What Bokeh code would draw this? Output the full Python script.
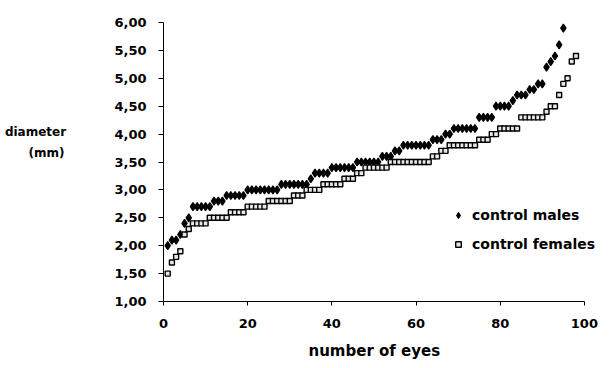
from bokeh.plotting import figure
from bokeh.models import Range1d, FixedTicker, CustomJSTickFormatter, Legend, LegendItem, Title
from bokeh.core.properties import value
from bokeh.layouts import row
from bokeh.embed import file_html
from bokeh.resources import INLINE

# ---- data ----
males = [2.0, 2.1, 2.1, 2.2, 2.4, 2.5,
         2.7, 2.7, 2.7, 2.7, 2.7,
         2.8, 2.8, 2.8,
         2.9, 2.9, 2.9, 2.9, 2.9,
         3.0, 3.0, 3.0, 3.0, 3.0, 3.0, 3.0, 3.0,
         3.1, 3.1, 3.1, 3.1, 3.1, 3.1, 3.1,
         3.2,
         3.3, 3.3, 3.3, 3.3,
         3.4, 3.4, 3.4, 3.4, 3.4, 3.4,
         3.5, 3.5, 3.5, 3.5, 3.5, 3.5,
         3.6, 3.6, 3.6,
         3.7, 3.7,
         3.8, 3.8, 3.8, 3.8, 3.8, 3.8, 3.8,
         3.9, 3.9, 3.9,
         4.0, 4.0,
         4.1, 4.1, 4.1, 4.1, 4.1, 4.1,
         4.3, 4.3, 4.3, 4.3,
         4.5, 4.5, 4.5, 4.5,
         4.6,
         4.7, 4.7, 4.7,
         4.8, 4.8,
         4.9, 4.9,
         5.2, 5.3, 5.4, 5.6, 5.9]

females = [1.5, 1.7, 1.8, 1.9, 2.2, 2.3,
           2.4, 2.4, 2.4, 2.4,
           2.5, 2.5, 2.5, 2.5, 2.5,
           2.6, 2.6, 2.6, 2.6,
           2.7, 2.7, 2.7, 2.7, 2.7,
           2.8, 2.8, 2.8, 2.8, 2.8, 2.8,
           2.9, 2.9, 2.9,
           3.0, 3.0, 3.0, 3.0,
           3.1, 3.1, 3.1, 3.1, 3.1,
           3.2, 3.2, 3.2,
           3.3, 3.3,
           3.4, 3.4, 3.4, 3.4, 3.4, 3.4,
           3.5, 3.5, 3.5, 3.5, 3.5, 3.5, 3.5, 3.5, 3.5, 3.5,
           3.6, 3.6,
           3.7, 3.7,
           3.8, 3.8, 3.8, 3.8, 3.8, 3.8, 3.8,
           3.9, 3.9, 3.9,
           4.0, 4.0,
           4.1, 4.1, 4.1, 4.1, 4.1,
           4.3, 4.3, 4.3, 4.3, 4.3, 4.3,
           4.4,
           4.5, 4.5,
           4.7, 4.9, 5.0, 5.3, 5.4]

male_eyes = list(range(1, len(males) + 1))
female_eyes = list(range(1, len(females) + 1))

y_ticks = [1.0, 1.5, 2.0, 2.5, 3.0, 3.5, 4.0, 4.5, 5.0, 5.5, 6.0]
x_ticks = [0, 20, 40, 60, 80, 100]
x_title = "number of eyes"
y_title = ["diameter", "(mm)"]

FONT = "DejaVu Sans"
TOP, BOTTOM = 22, 66
LEFT_W = 70

# ---- main chart ----
p = figure(width=610 - LEFT_W, height=368, output_backend="svg", toolbar_location=None,
           x_range=Range1d(0, 106.2), y_range=Range1d(1, 6),
           min_border_left=163 - LEFT_W, min_border_right=0,
           min_border_top=TOP, min_border_bottom=BOTTOM)
p.outline_line_color = None
p.xgrid.visible = False
p.ygrid.visible = False
p.background_fill_color = "white"
p.border_fill_color = "white"

for ax in (p.xaxis, p.yaxis):
    ax.axis_line_color = "black"
    ax.axis_line_width = 1
    ax.major_tick_line_color = "black"
    ax.major_tick_in = 0
    ax.minor_tick_line_color = None
    ax.major_label_text_font = FONT
    ax.major_label_text_font_style = "bold"
    ax.major_label_text_font_size = "13px"
    ax.major_label_text_color = "black"

p.yaxis.ticker = FixedTicker(ticks=y_ticks)
p.yaxis.formatter = CustomJSTickFormatter(code="return tick.toFixed(2).replace('.', ',');")
p.yaxis.major_tick_out = 5
p.yaxis.major_label_standoff = 12

p.xaxis.ticker = FixedTicker(ticks=x_ticks)
p.xaxis.bounds = (0, 100)
p.xaxis.major_tick_out = 4
p.xaxis.major_label_standoff = 13

# x-axis title, placed under the 0..100 part of the axis
xt = Title(text=x_title, align="left", offset=145, standoff=8,
           text_font=FONT, text_font_style="bold",
           text_font_size="15px", text_color="black")
try:
    xt.padding = 5
    xt.offset = 140
except Exception:
    pass
p.add_layout(xt, "below")

rm = p.scatter(male_eyes, males, marker="diamond", size=8,
               fill_color="black", line_color="black", line_width=1.2)
rf = p.scatter(female_eyes, females, marker="square", size=5,
               fill_color="#e8e8e8", line_color="black", line_width=1.4)

legend = Legend(items=[LegendItem(label="control males", renderers=[rm]),
                       LegendItem(label="control females", renderers=[rf])],
                location=(288, 49), orientation="vertical",
                glyph_width=14, glyph_height=14, label_height=14,
                spacing=13, padding=0, margin=0, label_standoff=7,
                border_line_color=None, background_fill_alpha=0,
                label_text_font=FONT, label_text_font_style="bold",
                label_text_font_size="14px", label_text_color="black")
p.add_layout(legend, "center")

# ---- left strip holding the horizontal y-axis title ----
t = figure(width=LEFT_W, height=368, output_backend="svg", toolbar_location=None,
           x_range=Range1d(0, LEFT_W), y_range=Range1d(1, 6),
           x_axis_location=None, y_axis_location=None,
           min_border_left=0, min_border_right=0,
           min_border_top=TOP, min_border_bottom=BOTTOM)
t.outline_line_color = None
t.xgrid.visible = False
t.ygrid.visible = False
t.text(x=[35, 46], y=[4.04, 3.66], text=y_title,
       text_align="center", text_baseline="middle",
       text_font=value(FONT), text_font_style="bold",
       text_font_size="12px", text_color="black")

layout = row(t, p, spacing=0)
open("out.html", "w").write(file_html(layout, INLINE))
